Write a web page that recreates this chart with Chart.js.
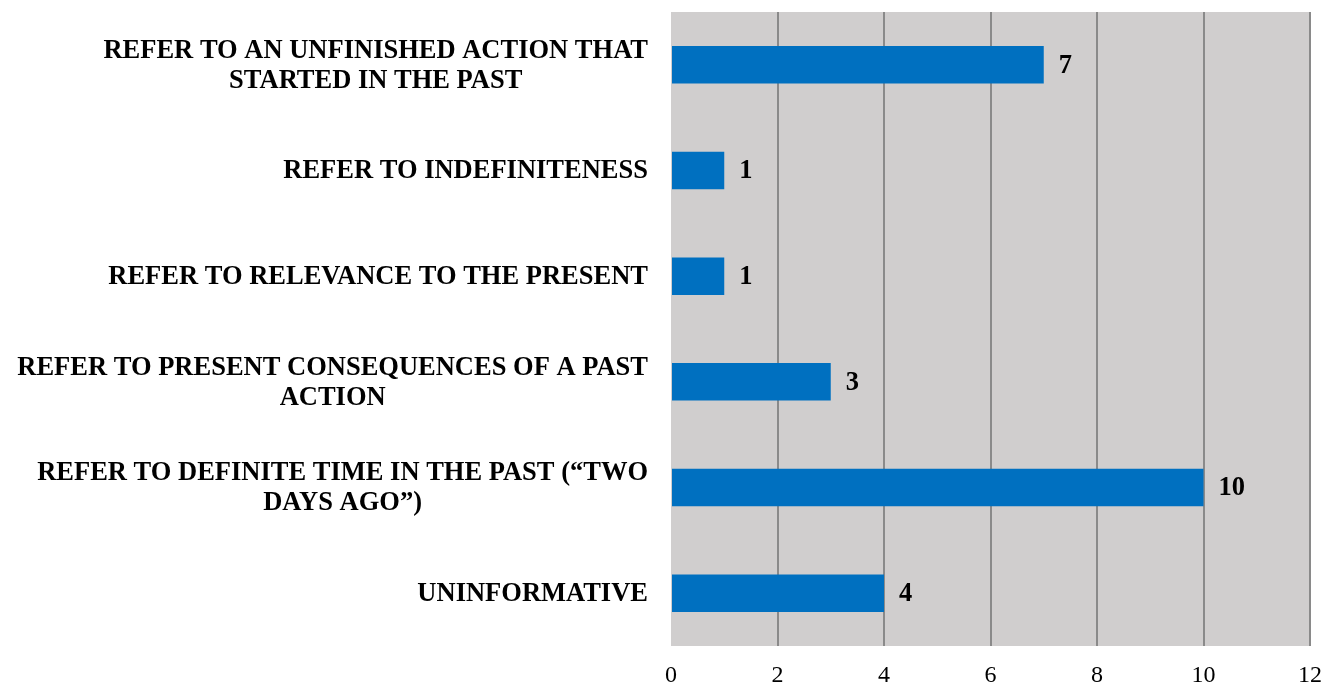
<!DOCTYPE html>
<html>
<head>
<meta charset="utf-8">
<script src="https://cdn.jsdelivr.net/npm/chart.js@4/dist/chart.umd.min.js"></script>
<style>
  html, body { margin: 0; padding: 0; background: #fff; }
  #wrap { width: 1338px; height: 685px; }
</style>
</head>
<body>
<div id="wrap"><canvas id="usesChart"></canvas></div>
<script>
// Datos
const categories = [
    ['REFER TO AN UNFINISHED ACTION THAT', 'STARTED IN THE PAST'],
    ['REFER TO INDEFINITENESS'],
    ['REFER TO RELEVANCE TO THE PRESENT'],
    ['REFER TO PRESENT CONSEQUENCES OF A PAST', 'ACTION'],
    ['REFER TO DEFINITE TIME IN THE PAST (\u201CTWO', 'DAYS AGO\u201D)'],
    ['UNINFORMATIVE']
];
const counts = [7, 1, 1, 3, 10, 4];
const xTicks = [0, 2, 4, 6, 8, 10, 12];

const serif = '"Liberation Serif", "Times New Roman", serif';

// Fondo gris del area de trazado
const plotBackground = {
    id: 'plotBackground',
    beforeDraw(chart) {
        const { ctx, chartArea } = chart;
        ctx.save();
        ctx.fillStyle = '#d0cece';
        ctx.fillRect(chartArea.left, chartArea.top, chartArea.right - chartArea.left, chartArea.bottom - chartArea.top);
        ctx.restore();
    }
};

// Etiquetas de categoria: bloque alineado a la derecha, lineas centradas
const categoryLabels = {
    id: 'categoryLabels',
    afterDraw(chart) {
        const { ctx } = chart;
        const yScale = chart.scales.y;
        const rightEdge = chart.chartArea.left - 23;
        ctx.save();
        ctx.font = 'bold 26.5px ' + serif;
        ctx.fillStyle = '#000';
        ctx.textBaseline = 'middle';
        ctx.textAlign = 'center';
        categories.forEach((lines, i) => {
            const cy = yScale.getPixelForValue(i);
            const maxW = Math.max(...lines.map(l => ctx.measureText(l).width));
            const cx = rightEdge - maxW / 2;
            lines.forEach((line, j) => {
                ctx.fillText(line, cx, cy + (j - (lines.length - 1) / 2) * 30 + 1);
            });
        });
        ctx.restore();
    }
};

// Valores al final de cada barra
const valueLabels = {
    id: 'valueLabels',
    afterDatasetsDraw(chart) {
        const { ctx } = chart;
        const meta = chart.getDatasetMeta(0);
        ctx.save();
        ctx.font = 'bold 26.5px ' + serif;
        ctx.fillStyle = '#000';
        ctx.textBaseline = 'middle';
        ctx.textAlign = 'left';
        meta.data.forEach((bar, i) => {
            ctx.fillText(String(counts[i]), bar.x + 15, bar.y + 1);
        });
        ctx.restore();
    }
};

const ctx = document.getElementById('usesChart').getContext('2d');
const usesChart = new Chart(ctx, {
    type: 'bar',
    data: {
        labels: categories,
        datasets: [{
            data: counts,
            backgroundColor: '#0070c0',
            borderWidth: 0,
            categoryPercentage: 1,
            barPercentage: 0.355
        }]
    },
    options: {
        indexAxis: 'y',
        responsive: true,
        maintainAspectRatio: false,
        animation: false,
        layout: { padding: { top: 12, right: 28, left: 0, bottom: 0 } },
        scales: {
            x: {
                min: 0,
                max: 12,
                afterBuildTicks(scale) {
                    scale.ticks = xTicks.map(v => ({ value: v }));
                },
                afterFit(scale) { scale.height = 39; },
                grid: {
                    color: c => (c.tick && c.tick.value === 0) ? 'rgba(0,0,0,0)' : '#8a8a8a',
                    lineWidth: 2,
                    drawTicks: false
                },
                border: { display: false },
                ticks: {
                    padding: 15,
                    color: '#000',
                    font: { family: serif, size: 24 }
                }
            },
            y: {
                afterFit(scale) { scale.width = 671; },
                grid: { display: false },
                border: { display: false },
                ticks: { display: false }
            }
        },
        plugins: {
            legend: { display: false },
            tooltip: { enabled: false }
        }
    },
    plugins: [plotBackground, categoryLabels, valueLabels]
});
</script>
</body>
</html>
